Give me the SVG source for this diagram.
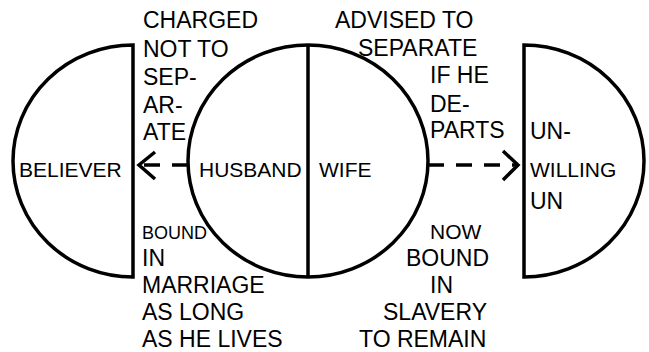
<svg xmlns="http://www.w3.org/2000/svg" width="649" height="352" viewBox="0 0 649 352">
<style>
.s{fill:none;stroke:#000;stroke-width:3.5}
.t{font-family:"Liberation Sans",Arial,sans-serif;font-size:21px;fill:#000}
.l{font-size:23px}
.sm{font-size:18px}
.d{fill:none;stroke:#000;stroke-width:3.5;stroke-dasharray:16 12}
.h{fill:none;stroke:#000;stroke-width:3.5;stroke-linecap:butt}
</style>
<rect width="649" height="352" fill="#fff"/>
<g id="believer">
<path class="s" d="M133,45 A120,116 0 0 0 133,277 Z"/>
<text class="t" x="19" y="177">BELIEVER</text>
</g>
<g id="husband-wife">
<ellipse class="s" cx="308" cy="161" rx="120" ry="116"/>
<line class="s" x1="308" y1="45" x2="308" y2="277"/>
<text class="t" x="199" y="177">HUSBAND</text>
<text class="t" x="319" y="177">WIFE</text>
</g>
<g id="unwilling">
<path class="s" d="M524,45 A120,116 0 0 1 524,277 Z"/>
<text class="t l" x="530" y="139">UN-</text>
<text class="t" x="530" y="177">WILLING</text>
<text class="t l" x="530" y="209">UN</text>
</g>
<g id="connectors">
<path class="d" d="M188,165 H140"/>
<polyline class="h" points="155,152 139,165 155,179"/>
<path class="d" d="M428,165 H516"/>
<polyline class="h" points="503,151 518,165 503,180"/>
</g>
<g id="labels">
<text class="t l" x="143" y="28">CHARGED</text>
<text class="t l" x="143" y="57">NOT TO</text>
<text class="t l" x="143" y="85">SEP-</text>
<text class="t l" x="143" y="113">AR-</text>
<text class="t l" x="143" y="140">ATE</text>
<text class="t l" x="335" y="28">ADVISED TO</text>
<text class="t l" x="358" y="56">SEPARATE</text>
<text class="t l" x="430" y="83">IF HE</text>
<text class="t l" x="430" y="112">DE-</text>
<text class="t l" x="430" y="138">PARTS</text>
<text class="t sm" x="142" y="239">BOUND</text>
<text class="t l" x="142" y="266">IN</text>
<text class="t l" x="142" y="293">MARRIAGE</text>
<text class="t l" x="142" y="320">AS LONG</text>
<text class="t l" x="142" y="347">AS HE LIVES</text>
<text class="t" x="430" y="239">NOW</text>
<text class="t l" x="406" y="266">BOUND</text>
<text class="t l" x="430" y="293">IN</text>
<text class="t l" x="383" y="320">SLAVERY</text>
<text class="t l" x="359" y="347">TO REMAIN</text>
</g>
</svg>
